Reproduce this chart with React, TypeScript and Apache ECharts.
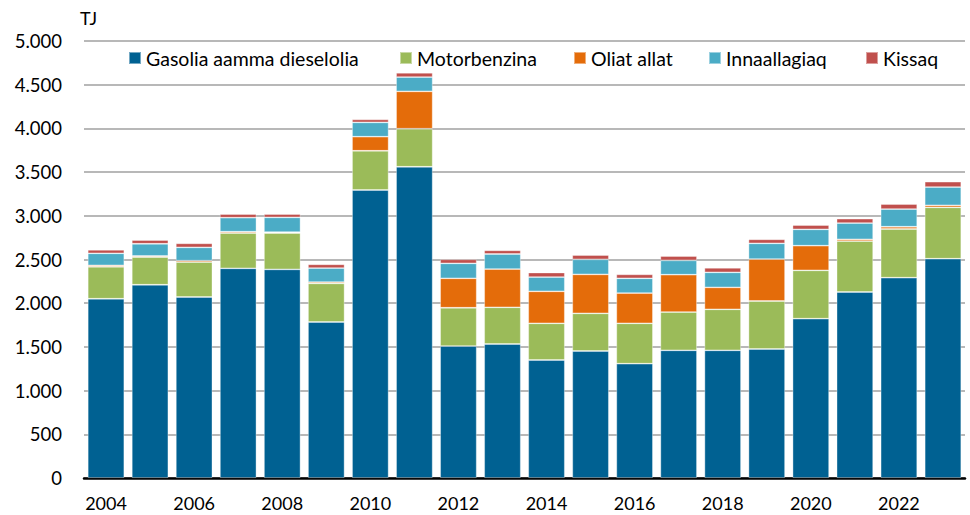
import React, { useEffect, useRef } from "react";
import * as echarts from "echarts";

const years = ["2004","2005","2006","2007","2008","2009","2010","2011","2012","2013","2014","2015","2016","2017","2018","2019","2020","2021","2022","2023"];
const gasolia = [2051, 2211, 2071, 2399, 2387, 1785, 3295, 3561, 1510, 1533, 1350, 1453, 1308, 1461, 1461, 1476, 1823, 2128, 2292, 2509];
const motorbenzina = [366, 317, 400, 404, 416, 442, 449, 435, 438, 420, 420, 431, 462, 438, 469, 549, 553, 583, 557, 588];
const oliatAllat = [16, 12, 15, 15, 11, 15, 161, 428, 337, 438, 366, 446, 346, 427, 251, 480, 282, 20, 26, 23];
const innaallagiaq = [138, 140, 153, 160, 168, 160, 164, 163, 171, 172, 163, 172, 169, 164, 172, 180, 187, 186, 202, 209];
const kissaq = [40, 43, 46, 42, 38, 43, 34, 50, 46, 42, 52, 49, 45, 50, 52, 46, 49, 50, 58, 61];

const seriesNames = ["Gasolia aamma dieselolia", "Motorbenzina", "Oliat allat", "Innaallagiaq", "Kissaq"];
const seriesData = [gasolia, motorbenzina, oliatAllat, innaallagiaq, kissaq];
const colors = ["#006192", "#9BBB59", "#E46C0A", "#4BACC6", "#C0504D"];
const legendLefts = [128, 399, 573, 708, 865];

const FONT = "Lato";

export default function App() {
  const ref = useRef<HTMLDivElement>(null);
  useEffect(() => {
    if (!ref.current) return;
    const chart = echarts.init(ref.current, undefined, { renderer: "svg" });
    const fmt = (v: number) => String(v).replace(/\B(?=(\d{3})+(?!\d))/g, ".");
    chart.setOption({
      animation: false,
      textStyle: { fontFamily: FONT },
      grid: { left: 84, right: 5, top: 41, bottom: 37, containLabel: false },
      legend: seriesNames.map((n, i) => ({
        data: [n],
        left: legendLefts[i],
        top: 48,
        padding: 0,
        itemWidth: 12,
        itemHeight: 12,
        icon: "rect",
        selectedMode: false,
        textStyle: { fontFamily: FONT, fontSize: 19.5, color: "#000" },
      })),
      graphic: [
        {
          type: "text",
          left: 80,
          top: 9,
          style: { text: "TJ", font: `18px ${FONT}`, fill: "#000" },
        },
      ],
      xAxis: {
        type: "category",
        data: years,
        axisTick: { show: false },
        axisLine: { lineStyle: { color: "#000", width: 2.5 } },
        axisLabel: {
          interval: 1,
          margin: 16,
          fontSize: 18,
          fontFamily: FONT,
          color: "#000",
        },
      },
      yAxis: {
        type: "value",
        min: 0,
        max: 5000,
        interval: 500,
        axisLine: { show: false },
        axisTick: { show: false },
        splitLine: { lineStyle: { color: "#A0A0A0", width: 1.5 } },
        axisLabel: {
          fontSize: 18.5,
          fontFamily: FONT,
          color: "#000",
          margin: 22,
          formatter: (v: number) => fmt(v),
        },
      },
      series: seriesNames.map((n, i) => ({
        name: n,
        type: "bar",
        stack: "total",
        data: seriesData[i],
        barCategoryGap: "17%",
        itemStyle: {
          color: colors[i],
          borderColor: "rgba(255,255,255,0.45)",
          borderWidth: 0.8,
        },
      })),
    });
    return () => chart.dispose();
  }, []);
  return (
    <div
      ref={ref}
      style={{ position: "absolute", left: 0, top: 0, width: 970, height: 515 }}
    />
  );
}
